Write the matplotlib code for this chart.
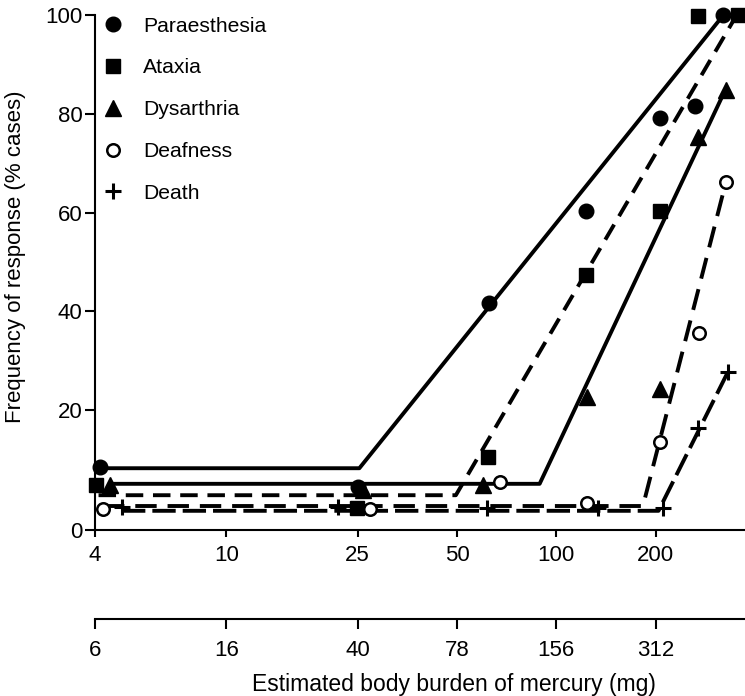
import numpy as np
import matplotlib
matplotlib.use('Agg')
import matplotlib.pyplot as plt
from matplotlib.ticker import FixedLocator, FixedFormatter, NullLocator

plt.rcParams['font.family'] = ['Liberation Sans', 'DejaVu Sans']

# observed points (x = main dose scale, y = % cases)
paraesthesia_x = [4.14, 25.0, 62.5, 123, 206, 263, 321]
paraesthesia_y = [10.5, 7.2, 41.7, 60.3, 79.1, 81.5, 100]
ataxia_x = [4.03, 24.9, 62, 123, 206, 268, 356]
ataxia_y = [7.5, 3.7, 12.2, 47.3, 60.3, 99.8, 100]
dysarthria_x = [4.45, 26, 60, 124, 206, 268, 326]
dysarthria_y = [7.5, 6.7, 7.5, 22.6, 24.3, 75.3, 84.8]
deafness_x = [4.23, 27.2, 67.6, 124, 206, 270, 326]
deafness_y = [3.5, 3.5, 8.0, 4.5, 14.7, 35.6, 66.2]
death_x = [4.83, 21.8, 61.6, 134, 211, 268, 331]
death_y = [3.8, 3.8, 3.7, 3.7, 3.7, 17, 27.7]

# fitted hockey-stick lines
paraesthesia_fit_x = [4.14, 25.3, 321]
paraesthesia_fit_y = [10.3, 10.3, 100]
ataxia_fit_x = [4.1, 49.6, 352]
ataxia_fit_y = [5.8, 5.8, 100]
dysarthria_fit_x = [4.45, 89, 326]
dysarthria_fit_y = [7.7, 7.7, 85]
deafness_fit_x = [4.23, 183, 326]
deafness_fit_y = [4.0, 4.0, 66]
death_fit_x = [4.83, 204, 331]
death_fit_y = [3.2, 3.2, 27.7]

x_ticks = [4, 10, 25, 50, 100, 200]
x_labels = ['4', '10', '25', '50', '100', '200']
mg_labels = ['6', '16', '40', '78', '156', '312']
y_ticks = [0, 20, 40, 60, 80, 100]

# the printed y axis is stretched below 20
K = 6 / 4.94


def fwd(y):
    y = np.asarray(y, dtype=float)
    return np.where(y >= 20, y, 20 - (20 - y) * K)


def inv(t):
    t = np.asarray(t, dtype=float)
    return np.where(t >= 20, t, 20 - (20 - t) / K)


W, H = 745, 696
fig = plt.figure(figsize=(W / 100, H / 100), dpi=100)
ax = fig.add_axes([95 / W, 1 - 530 / H, 650 / W, 515 / H])
ax.set_xscale('log')
ax.set_yscale('function', functions=(fwd, inv))
ax.set_xlim(4, 373)
ax.set_ylim(0, 100)

lw = 2.8
ax.plot(paraesthesia_fit_x, paraesthesia_fit_y, color='black', lw=lw, clip_on=False)
ax.plot(ataxia_fit_x, ataxia_fit_y, color='black', lw=lw, dashes=(4.5, 2.5), clip_on=False)
ax.plot(dysarthria_fit_x, dysarthria_fit_y, color='black', lw=lw, clip_on=False)
ax.plot(deafness_fit_x, deafness_fit_y, color='black', lw=lw, dashes=(5.5, 2.8), clip_on=False)
ax.plot(death_fit_x, death_fit_y, color='black', lw=lw, dashes=(6, 1.8), clip_on=False)

ax.plot(paraesthesia_x, paraesthesia_y, 'o', color='black', ms=10.5, ls='none',
        clip_on=False, zorder=5, label='Paraesthesia')
ax.plot(ataxia_x, ataxia_y, 's', color='black', ms=9.5, ls='none',
        clip_on=False, zorder=5, label='Ataxia')
ax.plot(dysarthria_x, dysarthria_y, '^', color='black', ms=11, ls='none',
        clip_on=False, zorder=5, label='Dysarthria')
ax.plot(deafness_x, deafness_y, 'o', mfc='white', mec='black', mew=1.8, ms=9,
        ls='none', clip_on=False, zorder=5, label='Deafness')
ax.plot(death_x, death_y, '+', color='black', mew=2.2, ms=11, ls='none',
        clip_on=False, zorder=5, label='Death')

ax.spines['top'].set_visible(False)
ax.spines['right'].set_visible(False)
ax.spines['left'].set_linewidth(1.5)
ax.spines['bottom'].set_linewidth(1.5)
ax.xaxis.set_major_locator(FixedLocator(x_ticks))
ax.xaxis.set_major_formatter(FixedFormatter(x_labels))
ax.xaxis.set_minor_locator(NullLocator())
ax.set_yticks(y_ticks)
ax.set_yticklabels([str(v) for v in y_ticks])
ax.yaxis.set_minor_locator(NullLocator())
ax.tick_params(axis='x', length=5, width=1.5, pad=6, labelsize=16)
ax.tick_params(axis='y', length=7, width=1.5, pad=2, labelsize=16)

ax.set_ylabel('Frequency of response (% cases)', fontsize=16)
ax.yaxis.set_label_coords(-0.106, 0.53)

ax.legend(loc='upper left', bbox_to_anchor=(0.012, 0.997), frameon=False,
          fontsize=15.2, handlelength=1.0, handletextpad=0.9, labelspacing=1.08,
          borderpad=0, borderaxespad=0)

# second scale: body burden in mg
ax2 = fig.add_axes([95 / W, 1 - 619 / H, 650 / W, 0.0001])
ax2.set_xscale('log')
ax2.set_xlim(4, 373)
ax2.patch.set_visible(False)
for s in ['top', 'left', 'right']:
    ax2.spines[s].set_visible(False)
ax2.spines['bottom'].set_linewidth(1.5)
ax2.set_yticks([])
ax2.xaxis.set_major_locator(FixedLocator(x_ticks))
ax2.xaxis.set_major_formatter(FixedFormatter(mg_labels))
ax2.xaxis.set_minor_locator(NullLocator())
ax2.tick_params(axis='x', length=7, width=1.5, pad=8, labelsize=16)

fig.text(454 / W, 1 - 684 / H, 'Estimated body burden of mercury (mg)',
         ha='center', va='center', fontsize=16.5)

fig.savefig('out.png', dpi=100)
